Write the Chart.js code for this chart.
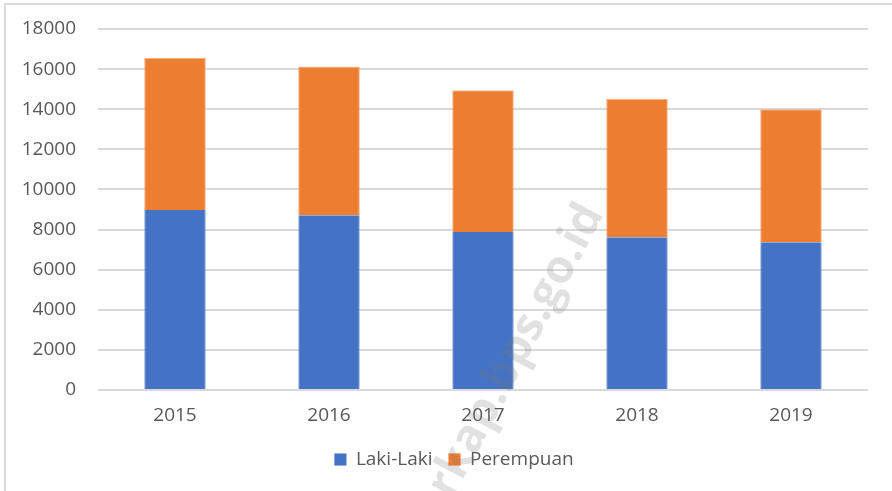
<!DOCTYPE html>
<html>
<head>
<meta charset="utf-8">
<script src="https://cdn.jsdelivr.net/npm/chart.js@4"></script>
<style>
  html, body { margin: 0; padding: 0; background: #fff; }
  #wrap { position: relative; width: 892px; height: 491px; }
  #frame { position: absolute; left: 4px; top: 3px; width: 900px; height: 500px;
           border-top: 2px solid #d9d9d9; border-left: 2px solid #d9d9d9; }
  canvas { position: absolute; left: 0; top: 0; }
</style>
</head>
<body>
<div id="wrap">
  <div id="frame"></div>
  <canvas id="my-chart" width="892" height="491"></canvas>
</div>
<script>
// Données
const years = ['2015', '2016', '2017', '2018', '2019'];
const lakiLaki = [8980, 8715, 7880, 7615, 7365];
const perempuan = [7570, 7415, 7070, 6900, 6635];
const yTicks = [0, 2000, 4000, 6000, 8000, 10000, 12000, 14000, 16000, 18000];

const textColor = '#595959';
const fontFamily = '"Open Sans", "Liberation Sans", sans-serif';

// Filigrane en diagonale
const watermark = {
    id: 'watermark',
    afterDatasetsDraw(chart) {
        const ctx = chart.ctx;
        ctx.save();
        ctx.translate(452, 500);
        ctx.rotate(-62 * Math.PI / 180);
        ctx.font = 'bold 46px ' + fontFamily;
        ctx.fillStyle = 'rgba(120, 120, 120, 0.22)';
        ctx.textBaseline = 'alphabetic';
        ctx.fillText('rkap.bps.go.id', 0, 0);
        ctx.restore();
    }
};

// Décaler la légende vers la droite, comme dans l'original
const shiftLegend = {
    id: 'shiftLegend',
    afterLayout(chart) {
        chart.legend.left += 20;
        chart.legend.right += 20;
    }
};

const ctx = document.getElementById('my-chart').getContext('2d');
new Chart(ctx, {
    type: 'bar',
    data: {
        labels: years,
        datasets: [
            {
                label: 'Laki-Laki',
                data: lakiLaki,
                backgroundColor: '#4472C4',
                borderColor: '#8faadc',
                borderWidth: { top: 0, left: 1, right: 1, bottom: 0 }
            },
            {
                label: 'Perempuan',
                data: perempuan,
                backgroundColor: '#ED7D31',
                borderColor: '#f4b183',
                borderWidth: { top: 1, left: 1, right: 1, bottom: 0 }
            }
        ]
    },
    options: {
        responsive: false,
        animation: false,
        layout: { padding: { left: 0, right: 24, top: 29, bottom: 12 } },
        datasets: { bar: { categoryPercentage: 1, barPercentage: 0.4 } },
        scales: {
            x: {
                stacked: true,
                grid: { display: false },
                border: { display: false },
                ticks: { color: textColor, font: { family: fontFamily, size: 19 }, padding: 6 },
                afterFit: scale => { scale.height = 44; }
            },
            y: {
                stacked: true,
                min: 0,
                max: 18000,
                afterBuildTicks: scale => { scale.ticks = yTicks.map(v => ({ value: v })); },
                grid: { color: '#d9d9d9', lineWidth: 2, drawTicks: false },
                border: { display: false },
                ticks: {
                    color: textColor,
                    font: { family: fontFamily, size: 19 },
                    padding: 22,
                    callback: v => String(v)
                },
                afterFit: scale => {
                    scale.width = 98;
                    scale.paddingTop = 0;
                    scale.paddingBottom = 0;
                }
            }
        },
        plugins: {
            legend: {
                position: 'bottom',
                labels: {
                    color: textColor,
                    font: { family: fontFamily, size: 19 },
                    boxWidth: 12,
                    boxHeight: 12,
                    padding: 16
                }
            },
            tooltip: { enabled: false }
        }
    },
    plugins: [watermark, shiftLegend]
});
</script>
</body>
</html>
